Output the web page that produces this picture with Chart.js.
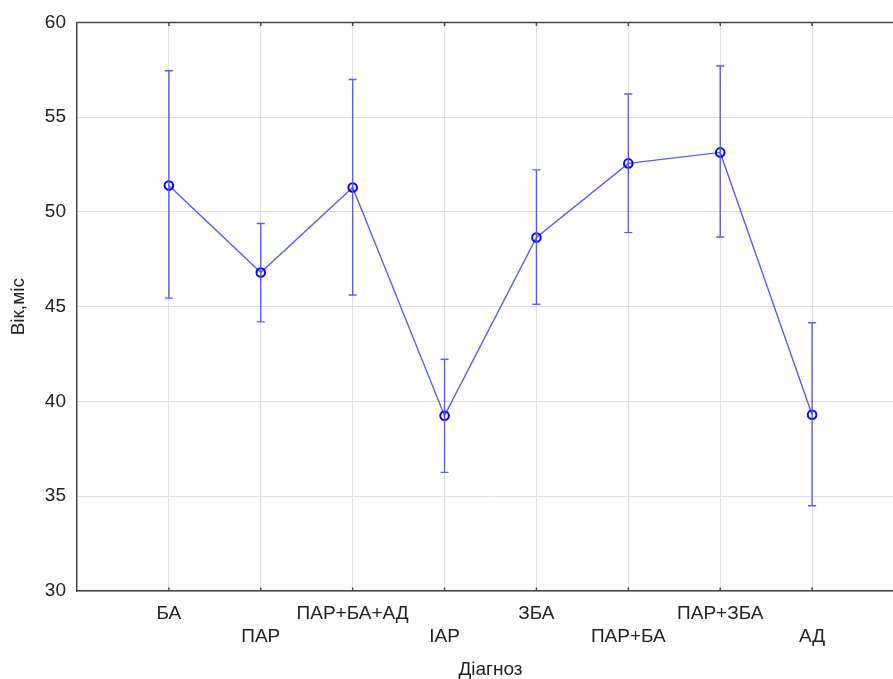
<!DOCTYPE html>
<html>
<head>
<meta charset="utf-8">
<script src="https://cdn.jsdelivr.net/npm/chart.js@4"></script>
<style>
  html, body { margin: 0; padding: 0; background: #fff; overflow: hidden; }
  #wrap { width: 915px; height: 679px; position: relative; }
  canvas { display: block; }
</style>
</head>
<body>
<div id="wrap"><canvas id="chart" width="915" height="679"></canvas></div>
<script>
const diagnoses = ["БА", "ПАР", "ПАР+БА+АД", "ІАР", "ЗБА", "ПАР+БА", "ПАР+ЗБА", "АД"];
const meanAge = [51.39, 46.80, 51.29, 39.25, 48.65, 52.56, 53.14, 39.30];
const lowerAge = [45.45, 44.20, 45.62, 36.26, 45.13, 48.91, 48.68, 34.50];
const upperAge = [57.45, 49.39, 56.99, 42.23, 52.22, 56.22, 57.70, 44.15];
const yTicks = [30, 35, 40, 45, 50, 55, 60];

const lineColor = "rgba(80, 80, 255, 0.95)";
const markerColor = "#0000ff";
const font = "Liberation Sans, Arial, sans-serif";

// vertical whiskers with short caps, taken from lowerAge / upperAge
const errorBarPlugin = {
  id: "errorBars",
  afterDatasetsDraw(chart) {
    const ctx = chart.ctx;
    const x = chart.scales.x;
    const y = chart.scales.y;
    ctx.save();
    ctx.strokeStyle = lineColor;
    ctx.lineWidth = 1.4;
    diagnoses.forEach((name, i) => {
      const px = x.getPixelForValue(i);
      const top = y.getPixelForValue(upperAge[i]);
      const bottom = y.getPixelForValue(lowerAge[i]);
      ctx.beginPath();
      ctx.moveTo(px, top);
      ctx.lineTo(px, bottom);
      ctx.moveTo(px - 4, top);
      ctx.lineTo(px + 4, top);
      ctx.moveTo(px - 4, bottom);
      ctx.lineTo(px + 4, bottom);
      ctx.stroke();
    });
    ctx.restore();
  },
};

// top frame line and inward tick marks at each category
const framePlugin = {
  id: "frame",
  afterDraw(chart) {
    const ctx = chart.ctx;
    const area = chart.chartArea;
    const x = chart.scales.x;
    ctx.save();
    ctx.strokeStyle = "#444";
    ctx.lineWidth = 1.5;
    ctx.beginPath();
    ctx.moveTo(area.left, area.top);
    ctx.lineTo(area.right, area.top);
    diagnoses.forEach((name, i) => {
      const px = x.getPixelForValue(i);
      ctx.moveTo(px, area.top);
      ctx.lineTo(px, area.top + 3.5);
      ctx.moveTo(px, area.bottom);
      ctx.lineTo(px, area.bottom - 3.5);
    });
    ctx.stroke();
    ctx.restore();
  },
};

new Chart(document.getElementById("chart"), {
  type: "line",
  data: {
    datasets: [
      {
        label: "Вік,міс",
        data: meanAge.map((v, i) => ({ x: i, y: v })),
        borderColor: lineColor,
        borderWidth: 1.4,
        pointStyle: "circle",
        pointRadius: 4.3,
        pointBorderWidth: 2,
        pointBorderColor: markerColor,
        pointBackgroundColor: "rgba(255,255,255,0)",
        tension: 0,
        fill: false,
      },
    ],
  },
  options: {
    responsive: false,
    animation: false,
    layout: { padding: { top: 22, left: 4, right: 2, bottom: 0 } },
    plugins: { legend: { display: false }, tooltip: { enabled: false } },
    scales: {
      x: {
        type: "linear",
        min: -1,
        max: 8,
        afterBuildTicks(scale) {
          scale.ticks = [-1, 0, 1, 2, 3, 4, 5, 6, 7, 8].map((v) => ({ value: v }));
        },
        afterFit(scale) {
          scale.height = 88;
        },
        grid: {
          drawTicks: false,
          lineWidth: 1,
          color(context) {
            const v = context.tick && context.tick.value;
            return v >= 0 && v <= 7 ? "#dedede" : "rgba(0,0,0,0)";
          },
        },
        border: { display: true, color: "#444", width: 1.5 },
        ticks: {
          padding: 11,
          color: "#222",
          font: { family: font, size: 19, lineHeight: 1.21 },
          maxRotation: 0,
          autoSkip: false,
          callback(value) {
            const name = diagnoses[value];
            if (!name) return "";
            return value % 2 === 0 ? name : ["", name];
          },
        },
        title: {
          display: true,
          text: "Діагноз",
          color: "#222",
          font: { family: font, size: 19, lineHeight: 1 },
          padding: { top: 0, bottom: 0 },
        },
      },
      y: {
        min: 30,
        max: 60,
        afterBuildTicks(scale) {
          scale.ticks = yTicks.map((v) => ({ value: v }));
        },
        afterFit(scale) {
          scale.width = 73;
        },
        grid: { drawTicks: false, color: "#dedede", lineWidth: 1 },
        border: { display: true, color: "#444", width: 1.5 },
        ticks: {
          padding: 11,
          color: "#222",
          font: { family: font, size: 19 },
        },
        title: {
          display: true,
          text: "Вік,міс",
          color: "#222",
          font: { family: font, size: 19 },
          padding: { top: 3, bottom: 0 },
        },
      },
    },
  },
  plugins: [errorBarPlugin, framePlugin],
});
</script>
</body>
</html>
